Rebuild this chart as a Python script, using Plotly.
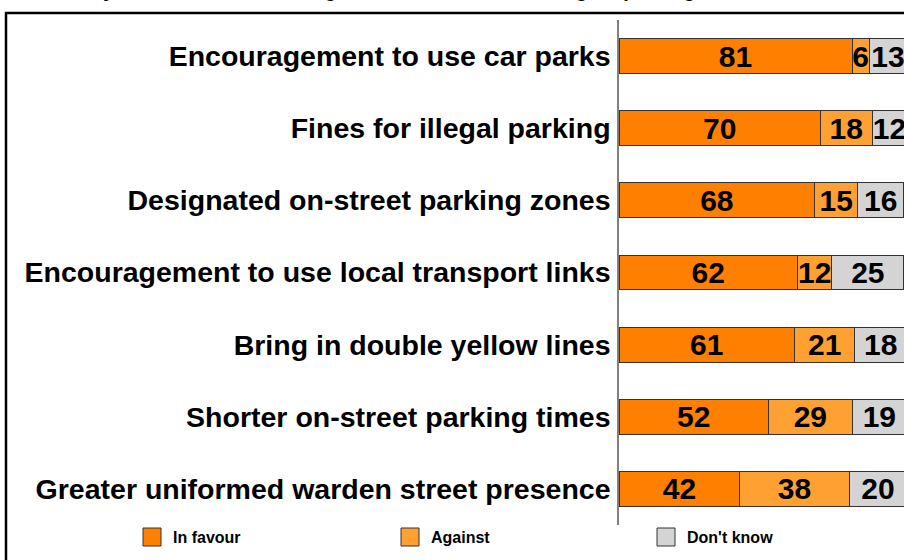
import plotly.graph_objects as go

# Survey measures (top to bottom as displayed)
measures = [
    "Encouragement to use car parks",
    "Fines for illegal parking",
    "Designated on-street parking zones",
    "Encouragement to use local transport links",
    "Bring in double yellow lines",
    "Shorter on-street parking times",
    "Greater uniformed warden street presence",
]
in_favour = [81, 70, 68, 62, 61, 52, 42]
against = [6, 18, 15, 12, 21, 29, 38]
dont_know = [13, 12, 16, 25, 18, 19, 20]

series_names = ["In favour", "Against", "Don't know"]
series_colors = ["#FF8000", "#FFA033", "#D4D4D4"]
series_values = [in_favour, against, dont_know]

title_text = "Would you be in favour of or against each of the following on parking"

FONT = "Liberation Sans, Arial, sans-serif"
W, H = 904, 560
L, R, T, B = 619, 0, 20, 35
PW, PH = W - L - R, H - T - B


def px_x(px):
    return (px - L) / PW


def px_y(py):
    return (H - B - py) / PH


fig = go.Figure()
for name, color, vals in zip(series_names, series_colors, series_values):
    fig.add_trace(go.Bar(
        name=name,
        y=measures,
        x=vals,
        orientation="h",
        marker=dict(color=color, line=dict(color="#333333", width=1)),
        text=[str(v) for v in vals],
        textposition="inside",
        insidetextanchor="middle",
        textangle=0,
        constraintext="none",
        textfont=dict(family=FONT, size=30, color="#000000", weight="bold"),
        showlegend=False,
        cliponaxis=True,
    ))

shapes = []
annotations = []

# outer frame
shapes.append(dict(type="rect", xref="paper", yref="paper",
                   x0=px_x(6), x1=px_x(1200), y0=px_y(900), y1=px_y(13),
                   line=dict(color="#000000", width=2.5), fillcolor="rgba(0,0,0,0)",
                   layer="below"))

# legend
legend_pos = [143, 401, 657]
for name, color, lx in zip(series_names, series_colors, legend_pos):
    shapes.append(dict(type="rect", xref="paper", yref="paper",
                       x0=px_x(lx), x1=px_x(lx + 18), y0=px_y(546), y1=px_y(528),
                       line=dict(color="#333333", width=1), fillcolor=color))
    annotations.append(dict(xref="paper", yref="paper", x=px_x(lx + 28), y=px_y(537),
                            xanchor="left", yanchor="middle", showarrow=False,
                            text="<b>%s</b>" % name,
                            font=dict(family=FONT, size=16, color="#000000")))

# title (sits at the top edge)
annotations.append(dict(xref="paper", yref="paper", x=px_x(35), y=px_y(3),
                        xanchor="left", yanchor="bottom", showarrow=False,
                        text="<b>%s</b>" % title_text,
                        font=dict(family=FONT, size=20, color="#000000")))

fig.update_layout(
    width=W, height=H,
    margin=dict(l=L, r=R, t=T, b=B, pad=0),
    paper_bgcolor="#FFFFFF", plot_bgcolor="#FFFFFF",
    barmode="stack",
    bargap=0.515,
    shapes=shapes,
    annotations=annotations,
    xaxis=dict(range=[0, PW / 2.877], showgrid=False, zeroline=False,
               showticklabels=False, ticks="", showline=False, fixedrange=True),
    yaxis=dict(autorange="reversed", showgrid=False, zeroline=False, ticks="",
               showline=True, linecolor="#808080", linewidth=1.5,
               ticklabelstandoff=1,
               tickfont=dict(family=FONT, size=28.5, color="#000000", weight="bold")),
)

fig.write_html("out.html")
